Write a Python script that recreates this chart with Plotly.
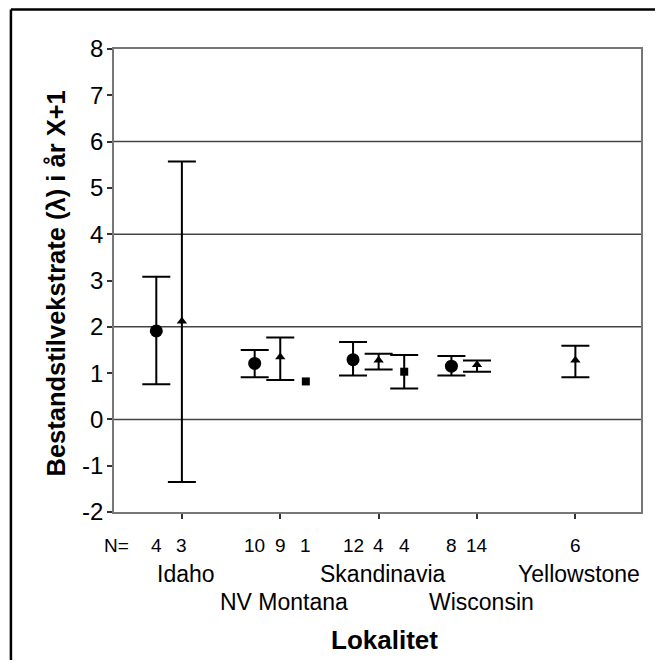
import plotly.graph_objects as go

# ---------------- data ----------------
groups = ["Idaho", "NV Montana", "Skandinavia", "Wisconsin", "Yellowstone"]
y_ticks = [-2, -1, 0, 1, 2, 3, 4, 5, 6, 7, 8]
y_tick_labels = ["-2", "-1", "0", "1", "2", "3", "4", "5", "6", "7", "8"]
grid_levels = [0, 2, 4, 6]

circle_mean = [1.91, 1.21, 1.29, 1.15, None]
circle_upper = [3.08, 1.50, 1.67, 1.37, None]
circle_lower = [0.76, 0.91, 0.95, 0.95, None]
circle_n = [4, 10, 12, 8, None]

triangle_mean = [2.12, 1.35, 1.28, 1.18, 1.28]
triangle_upper = [5.57, 1.77, 1.42, 1.27, 1.59]
triangle_lower = [-1.35, 0.85, 1.08, 1.03, 0.91]
triangle_n = [3, 9, 4, 14, 6]

square_mean = [None, 0.82, 1.03, None, None]
square_upper = [None, None, 1.39, None, None]
square_lower = [None, None, 0.67, None, None]
square_n = [None, 1, 4, None, None]

# ---------------- layout constants ----------------
# page has an 8px body margin, so the figure is 16px smaller than the window
W, H = 647, 652
ML, MR, MT, MB = 106, 14.4, 40.5, 147.5
PW = W - ML - MR
PH = H - MT - MB
FONT = "Liberation Sans, Arial, sans-serif"
OFFSETS = {"circle": -0.26, "triangle": 0.0, "square": 0.26}

fig = go.Figure()


def add_series(means, upper, lower, symbol, size, offset):
    xe, ye, plus, minus = [], [], [], []
    xn, yn = [], []
    for i, m in enumerate(means):
        if m is None:
            continue
        if upper[i] is None:
            xn.append(i + offset)
            yn.append(m)
        else:
            xe.append(i + offset)
            ye.append(m)
            plus.append(upper[i] - m)
            minus.append(m - lower[i])
    marker = dict(symbol=symbol, size=size, color="black")
    if xe:
        fig.add_trace(go.Scatter(
            x=xe, y=ye, mode="markers", marker=marker,
            error_y=dict(type="data", symmetric=False, array=plus, arrayminus=minus,
                         color="black", thickness=2, width=14),
            showlegend=False, hoverinfo="skip"))
    if xn:
        fig.add_trace(go.Scatter(x=xn, y=yn, mode="markers", marker=marker,
                                 showlegend=False, hoverinfo="skip"))


add_series(circle_mean, circle_upper, circle_lower, "circle", 13, OFFSETS["circle"])
add_series(triangle_mean, triangle_upper, triangle_lower, "triangle-up", 9, OFFSETS["triangle"])
add_series(square_mean, square_upper, square_lower, "square", 8, OFFSETS["square"])

annotations = []
# N labels
annotations.append(dict(x=-0.66, y=0, xref="x", yref="paper", text="N=",
                        xanchor="center", yanchor="middle",
                        showarrow=False, yshift=-33, font=dict(size=19)))
for series, key in ((circle_n, "circle"), (triangle_n, "triangle"), (square_n, "square")):
    for i, n in enumerate(series):
        if n is None:
            continue
        annotations.append(dict(x=i + OFFSETS[key], y=0, xref="x", yref="paper",
                                text=str(n), showarrow=False, yshift=-33,
                                xanchor="center", yanchor="middle",
                                font=dict(size=19)))
# group labels, alternating rows
for i, g in enumerate(groups):
    annotations.append(dict(x=i, y=0, xref="x", yref="paper", text=g,
                            showarrow=False, xshift=4,
                            xanchor="center", yanchor="middle",
                            yshift=-62 if i % 2 == 0 else -90,
                            font=dict(size=23)))
# axis titles
annotations.append(dict(x=0.5, y=0, xref="paper", yref="paper", text="<b>Lokalitet</b>",
                        xanchor="center", yanchor="middle",
                        showarrow=False, xshift=7, yshift=-128, font=dict(size=26)))
annotations.append(dict(x=0, y=0.5, xref="paper", yref="paper",
                        text="<b>Bestandstilvekstrate (λ) i år X+1</b>",
                        xanchor="center", yanchor="middle",
                        textangle=-90, showarrow=False, xshift=-59, yshift=-3,
                        font=dict(size=25.5)))

shapes = []
for lv in grid_levels:
    shapes.append(dict(type="line", xref="paper", yref="y", x0=0, x1=1, y0=lv, y1=lv,
                       line=dict(color="#444", width=1.5), layer="below"))
# outer frame (left and top edges)
fx = (3 - ML) / PW
fy = (H - MB - 1) / PH
shapes.append(dict(type="line", xref="paper", yref="paper", x0=fx, x1=fx,
                   y0=fy, y1=-MB / PH - 0.02, line=dict(color="black", width=2.5)))
shapes.append(dict(type="line", xref="paper", yref="paper", x0=fx, x1=(W - ML) / PW + 0.02,
                   y0=fy, y1=fy, line=dict(color="black", width=2.5)))

fig.update_layout(
    width=W, height=H,
    margin=dict(l=ML, r=MR, t=MT, b=MB, pad=0),
    paper_bgcolor="white", plot_bgcolor="white",
    font=dict(family=FONT, color="black", size=22),
    annotations=annotations, shapes=shapes,
    xaxis=dict(range=[-0.69, 4.667], tickmode="array", tickvals=list(range(len(groups))),
               showticklabels=False, ticks="outside", ticklen=5, tickwidth=1.5,
               tickcolor="#333", showgrid=False, zeroline=False,
               showline=True, linecolor="#777", linewidth=1.5, mirror=True),
    yaxis=dict(range=[-2, 8], tickmode="array", tickvals=y_ticks, ticktext=y_tick_labels,
               ticks="outside", ticklen=5, tickwidth=1.5, tickcolor="#333",
               ticklabelstandoff=-1,
               showgrid=False, zeroline=False,
               showline=True, linecolor="#777", linewidth=1.5, mirror=True,
               tickfont=dict(size=24)),
)

fig.write_html("out.html")
